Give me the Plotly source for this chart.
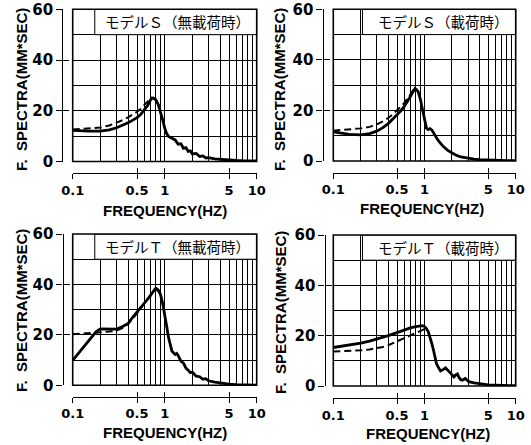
import plotly.graph_objects as go

# ---------------- data ----------------
# Panel 1: Model S, unloaded
f_s_unl_solid = [0.1, 0.12, 0.15, 0.2, 0.25, 0.3, 0.35, 0.4, 0.45, 0.5, 0.55, 0.6, 0.65, 0.7, 0.72,
                 0.75, 0.8, 0.85, 0.9, 0.95, 1.0, 1.05, 1.1, 1.2, 1.3, 1.4, 1.5, 1.6, 1.7, 1.8,
                 1.9, 2.0, 2.2, 2.4, 2.6, 2.8, 3.0, 3.5, 4, 5, 6, 7, 8, 10]
v_s_unl_solid = [12.3, 12.1, 12.0, 12.0, 12.5, 13.3, 14.3, 15.3, 16.3, 17.3, 18.6, 20.2, 22.0, 24.2, 25.0,
                 24.9, 24.3, 22.5, 19.7, 16.5, 13.2, 11.0, 9.9, 9.0, 8.5, 6.8, 7.0, 5.2, 5.5, 4.0,
                 4.2, 3.0, 3.2, 2.0, 2.2, 1.4, 1.5, 1.0, 0.8, 0.5, 0.4, 0.3, 0.3, 0.2]
f_s_unl_dash = [0.1, 0.15, 0.2, 0.25, 0.3, 0.35, 0.4, 0.45, 0.5, 0.55, 0.6, 0.65, 0.7, 0.75, 0.8, 0.85, 0.9]
v_s_unl_dash = [12.6, 13.0, 13.4, 14.2, 15.2, 16.3, 17.4, 18.5, 19.6, 20.8, 22.2, 23.6, 24.8, 25.2, 24.5, 22.8, 20.0]

# Panel 2: Model S, loaded
f_s_lod_solid = [0.1, 0.12, 0.15, 0.2, 0.25, 0.3, 0.35, 0.4, 0.45, 0.5, 0.55, 0.6, 0.65, 0.7, 0.75,
                 0.79, 0.85, 0.9, 0.95, 1.0, 1.05, 1.1, 1.15, 1.2, 1.3, 1.4, 1.5, 1.6, 1.8, 2.0,
                 2.2, 2.5, 3, 3.5, 4, 5, 6, 8, 10]
v_s_lod_solid = [11.5, 11.0, 10.5, 10.3, 10.8, 11.8, 13.2, 14.8, 16.5, 18.1, 19.8, 21.6, 23.5, 25.5, 27.5,
                 28.7, 27.5, 24.5, 20.5, 16.5, 13.0, 12.4, 12.8, 12.3, 10.0, 8.3, 7.0, 5.8, 4.2, 3.2,
                 2.4, 1.6, 1.0, 0.7, 0.5, 0.3, 0.2, 0.1, 0.1]
f_s_lod_dash = [0.1, 0.15, 0.2, 0.25, 0.3, 0.35, 0.4, 0.45, 0.5, 0.55, 0.6, 0.65, 0.7, 0.75, 0.8, 0.85]
v_s_lod_dash = [12.0, 12.4, 12.9, 13.5, 14.5, 15.7, 17.0, 18.5, 20.0, 21.5, 23.0, 24.6, 26.3, 28.0, 28.8, 27.5]

# Panel 3: Model T, unloaded
f_t_unl_solid = [0.1, 0.12, 0.15, 0.18, 0.2, 0.25, 0.3, 0.35, 0.4, 0.45, 0.5, 0.55, 0.6, 0.65, 0.7,
                 0.75, 0.8, 0.85, 0.9, 0.95, 1.0, 1.05, 1.1, 1.15, 1.2, 1.3, 1.35, 1.4, 1.5, 1.6,
                 1.7, 1.8, 1.9, 2.0, 2.2, 2.4, 2.6, 2.8, 3.0, 3.5, 4, 5, 6, 8, 10]
v_t_unl_solid = [9.9, 13.4, 17.8, 21.3, 22.4, 22.2, 22.3, 23.3, 24.5, 27.0, 29.0, 30.7, 32.2, 33.8, 35.5,
                 37.2, 38.5, 37.8, 36.0, 32.5, 28.4, 23.5, 19.0, 15.5, 13.5, 12.2, 12.6, 11.8, 9.6, 8.8,
                 6.8, 6.0, 5.0, 5.2, 3.6, 3.4, 2.4, 2.6, 1.8, 1.3, 0.9, 0.5, 0.3, 0.2, 0.1]
f_t_unl_dash = [0.1, 0.15, 0.2, 0.25, 0.3, 0.35, 0.4, 0.45, 0.5, 0.6, 0.7, 0.8, 0.85, 0.9]
v_t_unl_dash = [20.2, 20.6, 21.0, 21.3, 21.7, 22.8, 24.3, 26.5, 28.5, 32.5, 35.8, 38.0, 37.5, 35.5]

# Panel 4: Model T, loaded
f_t_lod_solid = [0.1, 0.12, 0.15, 0.2, 0.25, 0.3, 0.35, 0.4, 0.5, 0.6, 0.7, 0.8, 0.9, 0.95, 1.0,
                 1.05, 1.1, 1.15, 1.2, 1.25, 1.3, 1.35, 1.4, 1.5, 1.6, 1.7, 1.8, 1.9, 2.0, 2.1,
                 2.2, 2.3, 2.4, 2.5, 2.6, 2.8, 3.0, 3.2, 3.5, 4, 5, 6, 8, 10]
v_t_lod_solid = [15.3, 15.7, 16.2, 17.0, 17.8, 18.6, 19.3, 20.0, 21.2, 22.3, 23.1, 23.6, 24.0, 24.0, 23.6,
                 22.8, 21.5, 19.5, 17.0, 14.5, 11.5, 9.0, 7.8, 6.0, 6.5, 7.2, 6.3, 5.3, 4.5, 3.6,
                 4.4, 4.8, 3.3, 2.5, 2.3, 3.0, 2.0, 1.5, 1.2, 0.8, 0.4, 0.3, 0.1, 0.1]
f_t_lod_dash = [0.1, 0.15, 0.2, 0.25, 0.3, 0.35, 0.4, 0.45, 0.5, 0.55, 0.6, 0.7, 0.8, 0.9, 1.0]
v_t_lod_dash = [13.7, 13.9, 14.2, 14.5, 15.0, 15.5, 16.2, 17.0, 17.7, 18.3, 18.9, 20.0, 20.8, 21.6, 22.6]

panel_titles = ["モデルＳ（無載荷時）", "モデルＳ（載荷時）", "モデルＴ（無載荷時）", "モデルＴ（載荷時）"]
x_tickvals = [0.1, 0.5, 1, 5, 10]
x_ticktext = ["0.1", "0.5", "1", "5", "10"]
x_minor = [0.2, 0.3, 0.4, 0.6, 0.7, 0.8, 0.9, 2, 3, 4, 6, 7, 8, 9]
y_tickvals = [0, 20, 40, 60]
y_minor = [10, 30, 50]
x_title = "FREQUENCY(HZ)"
y_title = "F.  SPECTRA(MM*SEC)"

series = [
    (f_s_unl_solid, v_s_unl_solid, f_s_unl_dash, v_s_unl_dash),
    (f_s_lod_solid, v_s_lod_solid, f_s_lod_dash, v_s_lod_dash),
    (f_t_unl_solid, v_t_unl_solid, f_t_unl_dash, v_t_unl_dash),
    (f_t_lod_solid, v_t_lod_solid, f_t_lod_dash, v_t_lod_dash),
]

# ---------------- layout geometry (pixels in 531x445) ----------------
W, H = 531, 445
px_x = [(72.7, 256.7), (333.3, 515.7), (72.7, 256.7), (333.3, 515.7)]
px_y = [(9.3, 161.5), (9.3, 161.0), (234.0, 385.3), (235.0, 386.0)]
yline_px = [62.3, 322.5, 62.5, 324.5]
xline_px = [173.0, 172.7, 396.5, 398.0]
ytitle_px = [(21, 90), (279, 90), (21, 311), (280, 313)]
xtitle_px = [(164.5, 210), (422, 209), (164.5, 432), (428, 433)]
titlebox_x0 = [0.12, 0.16, 0.12, 0.16]

tick_font = dict(family="DejaVu Sans", size=13, color="black", weight="bold")
ytick_font = dict(family="DejaVu Sans", size=15, color="black", weight="bold")
title_font = dict(family="Liberation Sans Narrow, Liberation Sans, Arial", size=15, color="black", weight="bold")

fig = go.Figure()
layout = dict(width=W, height=H, margin=dict(l=0, r=0, t=0, b=0, pad=0, autoexpand=False),
              autosize=False, paper_bgcolor="white", plot_bgcolor="white", showlegend=False)
shapes = []
annotations = []

for i in range(4):
    n = i + 1
    xs = "" if n == 1 else str(n)
    xa, ya = "x" + xs, "y" + xs
    fs, vs, fd, vd = series[i]
    fig.add_trace(go.Scatter(x=fd, y=vd, mode="lines", xaxis=xa, yaxis=ya,
                             line=dict(color="black", width=2.0, dash="7px,4px"), hoverinfo="skip"))
    fig.add_trace(go.Scatter(x=fs, y=vs, mode="lines", xaxis=xa, yaxis=ya,
                             line=dict(color="black", width=2.8), hoverinfo="skip"))
    # overlay axes for crossing ticks
    on = n + 4
    fig.add_trace(go.Scatter(x=[None], y=[None], xaxis="x" + str(on), yaxis="y" + str(on),
                             mode="lines", hoverinfo="skip"))

    xd = [px_x[i][0] / W, px_x[i][1] / W]
    yd = [1 - px_y[i][1] / H, 1 - px_y[i][0] / H]
    xpos = 1 - xline_px[i] / H
    ypos = yline_px[i] / W

    layout["xaxis" + xs] = dict(
        type="log", range=[-1, 1], domain=xd, anchor="free", position=xpos,
        showline=True, linecolor="black", linewidth=1.3,
        ticks="outside", ticklen=5, tickwidth=1.3, tickcolor="black",
        tickmode="array", tickvals=x_tickvals, ticktext=x_ticktext, tickfont=tick_font,
        showgrid=True, gridcolor="black", gridwidth=1,
        minor=dict(tickmode="array", tickvals=x_minor, showgrid=True, gridcolor="black",
                   gridwidth=1, ticks=""),
        zeroline=False, fixedrange=True, automargin=False)
    layout["yaxis" + xs] = dict(
        range=[0, 60], domain=yd, anchor="free", position=ypos,
        showline=True, linecolor="black", linewidth=1.3,
        ticks="outside", ticklen=6, tickwidth=1.3, tickcolor="black",
        tickmode="array", tickvals=y_tickvals, tickfont=ytick_font,
        showgrid=True, gridcolor="black", gridwidth=1,
        minor=dict(tickmode="array", tickvals=y_minor, showgrid=True, gridcolor="black",
                   gridwidth=1, ticks=""),
        zeroline=False, fixedrange=True, automargin=False)
    layout["xaxis" + str(on)] = dict(
        type="log", range=[-1, 1], overlaying=xa, anchor="free", position=xpos,
        showline=False, ticks="inside", ticklen=5, tickwidth=1.3, tickcolor="black",
        tickmode="array", tickvals=x_tickvals, showticklabels=False,
        showgrid=False, zeroline=False, fixedrange=True, automargin=False)
    layout["yaxis" + str(on)] = dict(
        range=[0, 60], overlaying=ya, anchor="free", position=ypos,
        showline=False, ticks="inside", ticklen=6, tickwidth=1.3, tickcolor="black",
        tickmode="array", tickvals=y_tickvals, showticklabels=False,
        showgrid=False, zeroline=False, fixedrange=True, automargin=False)

    # title box (white strip covering the grid) and frame
    shapes.append(dict(type="rect", xref=xa + " domain", yref=ya, x0=titlebox_x0[i], x1=1,
                       y0=50, y1=60, fillcolor="white", line=dict(color="black", width=1),
                       layer="above"))
    shapes.append(dict(type="rect", xref=xa + " domain", yref=ya + " domain", x0=0, x1=1,
                       y0=0, y1=1, line=dict(color="black", width=1.6), layer="above"))

    annotations.append(dict(xref=xa + " domain", yref=ya + " domain", x=0.975, y=55 / 60,
                            xanchor="right", yanchor="middle", showarrow=False,
                            text=panel_titles[i],
                            font=dict(family="Noto Sans CJK JP", size=14.5, color="black")))
    annotations.append(dict(xref="paper", yref="paper", x=ytitle_px[i][0] / W, y=1 - ytitle_px[i][1] / H,
                            xanchor="center", yanchor="middle", showarrow=False, textangle=-90,
                            text=y_title, font=title_font))
    annotations.append(dict(xref="paper", yref="paper", x=xtitle_px[i][0] / W, y=1 - xtitle_px[i][1] / H,
                            xanchor="center", yanchor="middle", showarrow=False,
                            text=x_title, font=title_font))

layout["shapes"] = shapes
layout["annotations"] = annotations
fig.update_layout(**layout)
fig.write_html("out.html", config={"displayModeBar": False},
               post_script="document.body.style.margin='0';document.body.style.overflow='hidden';")
